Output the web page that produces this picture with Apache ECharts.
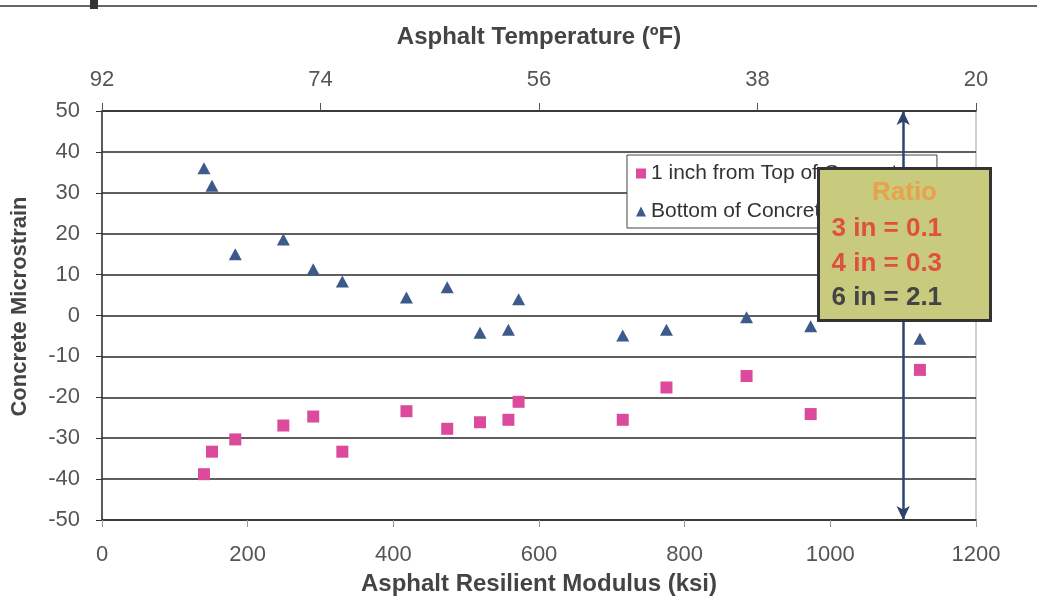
<!DOCTYPE html>
<html>
<head>
<meta charset="utf-8">
<script src="https://cdn.jsdelivr.net/npm/echarts@6/dist/echarts.min.js"></script>
<style>
  html, body { margin: 0; padding: 0; background: #fff; }
  #chart { width: 1037px; height: 599px; }
</style>
</head>
<body>
<div id="chart"></div>
<script>
// modulus (ksi) of each test
var modulus = [140, 151, 183, 249, 290, 330, 418, 474, 519, 558, 572, 715, 775, 885, 973, 1123];
// 1 inch from top of concrete
var topStrain = [-38.8, -33.3, -30.3, -26.9, -24.7, -33.3, -23.4, -27.7, -26.1, -25.5, -21.1, -25.5, -17.6, -14.8, -24.1, -13.3];
// bottom of concrete
var bottomStrain = [36.0, 31.7, 15.0, 18.6, 11.3, 8.3, 4.4, 6.9, -4.2, -3.5, 4.0, -4.9, -3.5, -0.4, -2.6, -5.7];
// top axis : temperature labels (92 -> 20 F)
var tempTicks = [92, 74, 56, 38, 20];
var ratioLines = ['3 in = 0.1', '4 in = 0.3', '6 in = 2.1'];
var arrowAt = 1100;

function pairs(xs, ys) {
  var out = [];
  for (var i = 0; i < xs.length; i++) out.push([xs[i], ys[i]]);
  return out;
}

var font = "'Liberation Sans', Arial, sans-serif";
var myChart = echarts.init(document.getElementById('chart'));

var option = {
  animation: false,
  textStyle: { fontFamily: font },
  grid: {
    left: 102, right: 61, top: 111, bottom: 79,
    outerBoundsMode: 'none',
    show: true, borderColor: '#a0a0a0', borderWidth: 1
  },
  legend: {
    orient: 'vertical',
    left: 627, top: 155,
    z: 1,
    padding: [8, 28, 6, 9],
    itemGap: 17,
    itemWidth: 10, itemHeight: 10,
    borderColor: '#444', borderWidth: 1,
    backgroundColor: '#fff',
    textStyle: { fontSize: 21, color: '#333', fontFamily: font },
    data: [
      { name: '1 inch from Top of Concrete', icon: 'rect' },
      { name: 'Bottom of Concrete', icon: 'triangle' }
    ]
  },
  xAxis: [{
    type: 'value', position: 'bottom',
    min: 0, max: 1200, interval: 200,
    name: 'Asphalt Resilient Modulus (ksi)',
    nameLocation: 'middle', nameGap: 52,
    nameTextStyle: { fontSize: 24, fontWeight: 'bold', color: '#444' },
    axisLine: { show: true, onZero: false, lineStyle: { color: '#333', width: 1.5 } },
    axisTick: { show: true, length: 7, lineStyle: { color: '#999' } },
    axisLabel: { fontSize: 22, color: '#555', margin: 24, formatter: function (v) { return String(v); } },
    splitLine: { show: false }
  }, {
    type: 'value', position: 'top',
    min: 0, max: 72, interval: 18,
    name: 'Asphalt Temperature (ºF)',
    nameLocation: 'middle', nameGap: 62,
    nameTextStyle: { fontSize: 24, fontWeight: 'bold', color: '#444' },
    axisLine: { show: true, onZero: false, lineStyle: { color: '#333', width: 1.5 } },
    axisTick: { show: true, length: 8, lineStyle: { color: '#555' } },
    axisLabel: {
      fontSize: 22, color: '#555', margin: 20,
      formatter: function (v) { return tempTicks[Math.round(v / 18)]; }
    },
    splitLine: { show: false }
  }],
  yAxis: {
    type: 'value', min: -50, max: 50, interval: 10,
    name: 'Concrete Microstrain',
    nameLocation: 'middle', nameGap: 71,
    nameTextStyle: { fontSize: 22, fontWeight: 'bold', color: '#444', padding: [0, 0, 0, 18] },
    axisLine: { show: true, onZero: false, lineStyle: { color: '#333', width: 1.5 } },
    axisTick: { show: true, length: 6, lineStyle: { color: '#333' } },
    axisLabel: { fontSize: 22, color: '#555', margin: 22 },
    splitLine: { show: true, lineStyle: { color: '#2a2a2a', width: 1.5 } }
  },
  series: [{
    name: '1 inch from Top of Concrete',
    type: 'scatter',
    symbol: 'rect', symbolSize: 12,
    itemStyle: { color: '#dc4a9b', opacity: 1 },
    data: pairs(modulus, topStrain),
    z: 3
  }, {
    name: 'Bottom of Concrete',
    type: 'scatter',
    symbol: 'triangle', symbolSize: [13, 12],
    itemStyle: { color: '#3d5a8a', opacity: 1 },
    data: pairs(modulus, bottomStrain),
    clip: false,
    markLine: {
      silent: true,
      symbol: ['arrow', 'arrow'],
      symbolSize: [10, 14],
      label: { show: false },
      lineStyle: { color: '#2d4470', width: 2.5, type: 'solid' },
      data: [[{ coord: [arrowAt, 50] }, { coord: [arrowAt, -50] }]]
    },
    z: 3
  }],
  graphic: [{
    type: 'rect', left: 0, top: 5, z: 1,
    shape: { width: 1037, height: 2 },
    style: { fill: '#666' }
  }, {
    type: 'rect', left: 90, top: 0, z: 1,
    shape: { width: 8, height: 9 },
    style: { fill: '#333' }
  }, {
    type: 'group', left: 817, top: 167, z: 100,
    children: [{
      type: 'rect', z: 100,
      shape: { x: 0, y: 0, width: 172, height: 152 },
      style: { fill: '#c8ca7e', stroke: '#333', lineWidth: 3 }
    }, {
      type: 'text', x: 86, y: 24, z: 101,
      style: { text: 'Ratio', fill: '#e8a24a', font: 'bold 26px ' + font, textAlign: 'center', textVerticalAlign: 'middle' }
    }, {
      type: 'text', x: 13, y: 60, z: 101,
      style: { text: ratioLines[0], fill: '#e0503f', font: 'bold 26px ' + font, textVerticalAlign: 'middle' }
    }, {
      type: 'text', x: 13, y: 95, z: 101,
      style: { text: ratioLines[1], fill: '#e0503f', font: 'bold 26px ' + font, textVerticalAlign: 'middle' }
    }, {
      type: 'text', x: 13, y: 129, z: 101,
      style: { text: ratioLines[2], fill: '#444', font: 'bold 26px ' + font, textVerticalAlign: 'middle' }
    }]
  }]
};
myChart.setOption(option);
</script>
</body>
</html>
